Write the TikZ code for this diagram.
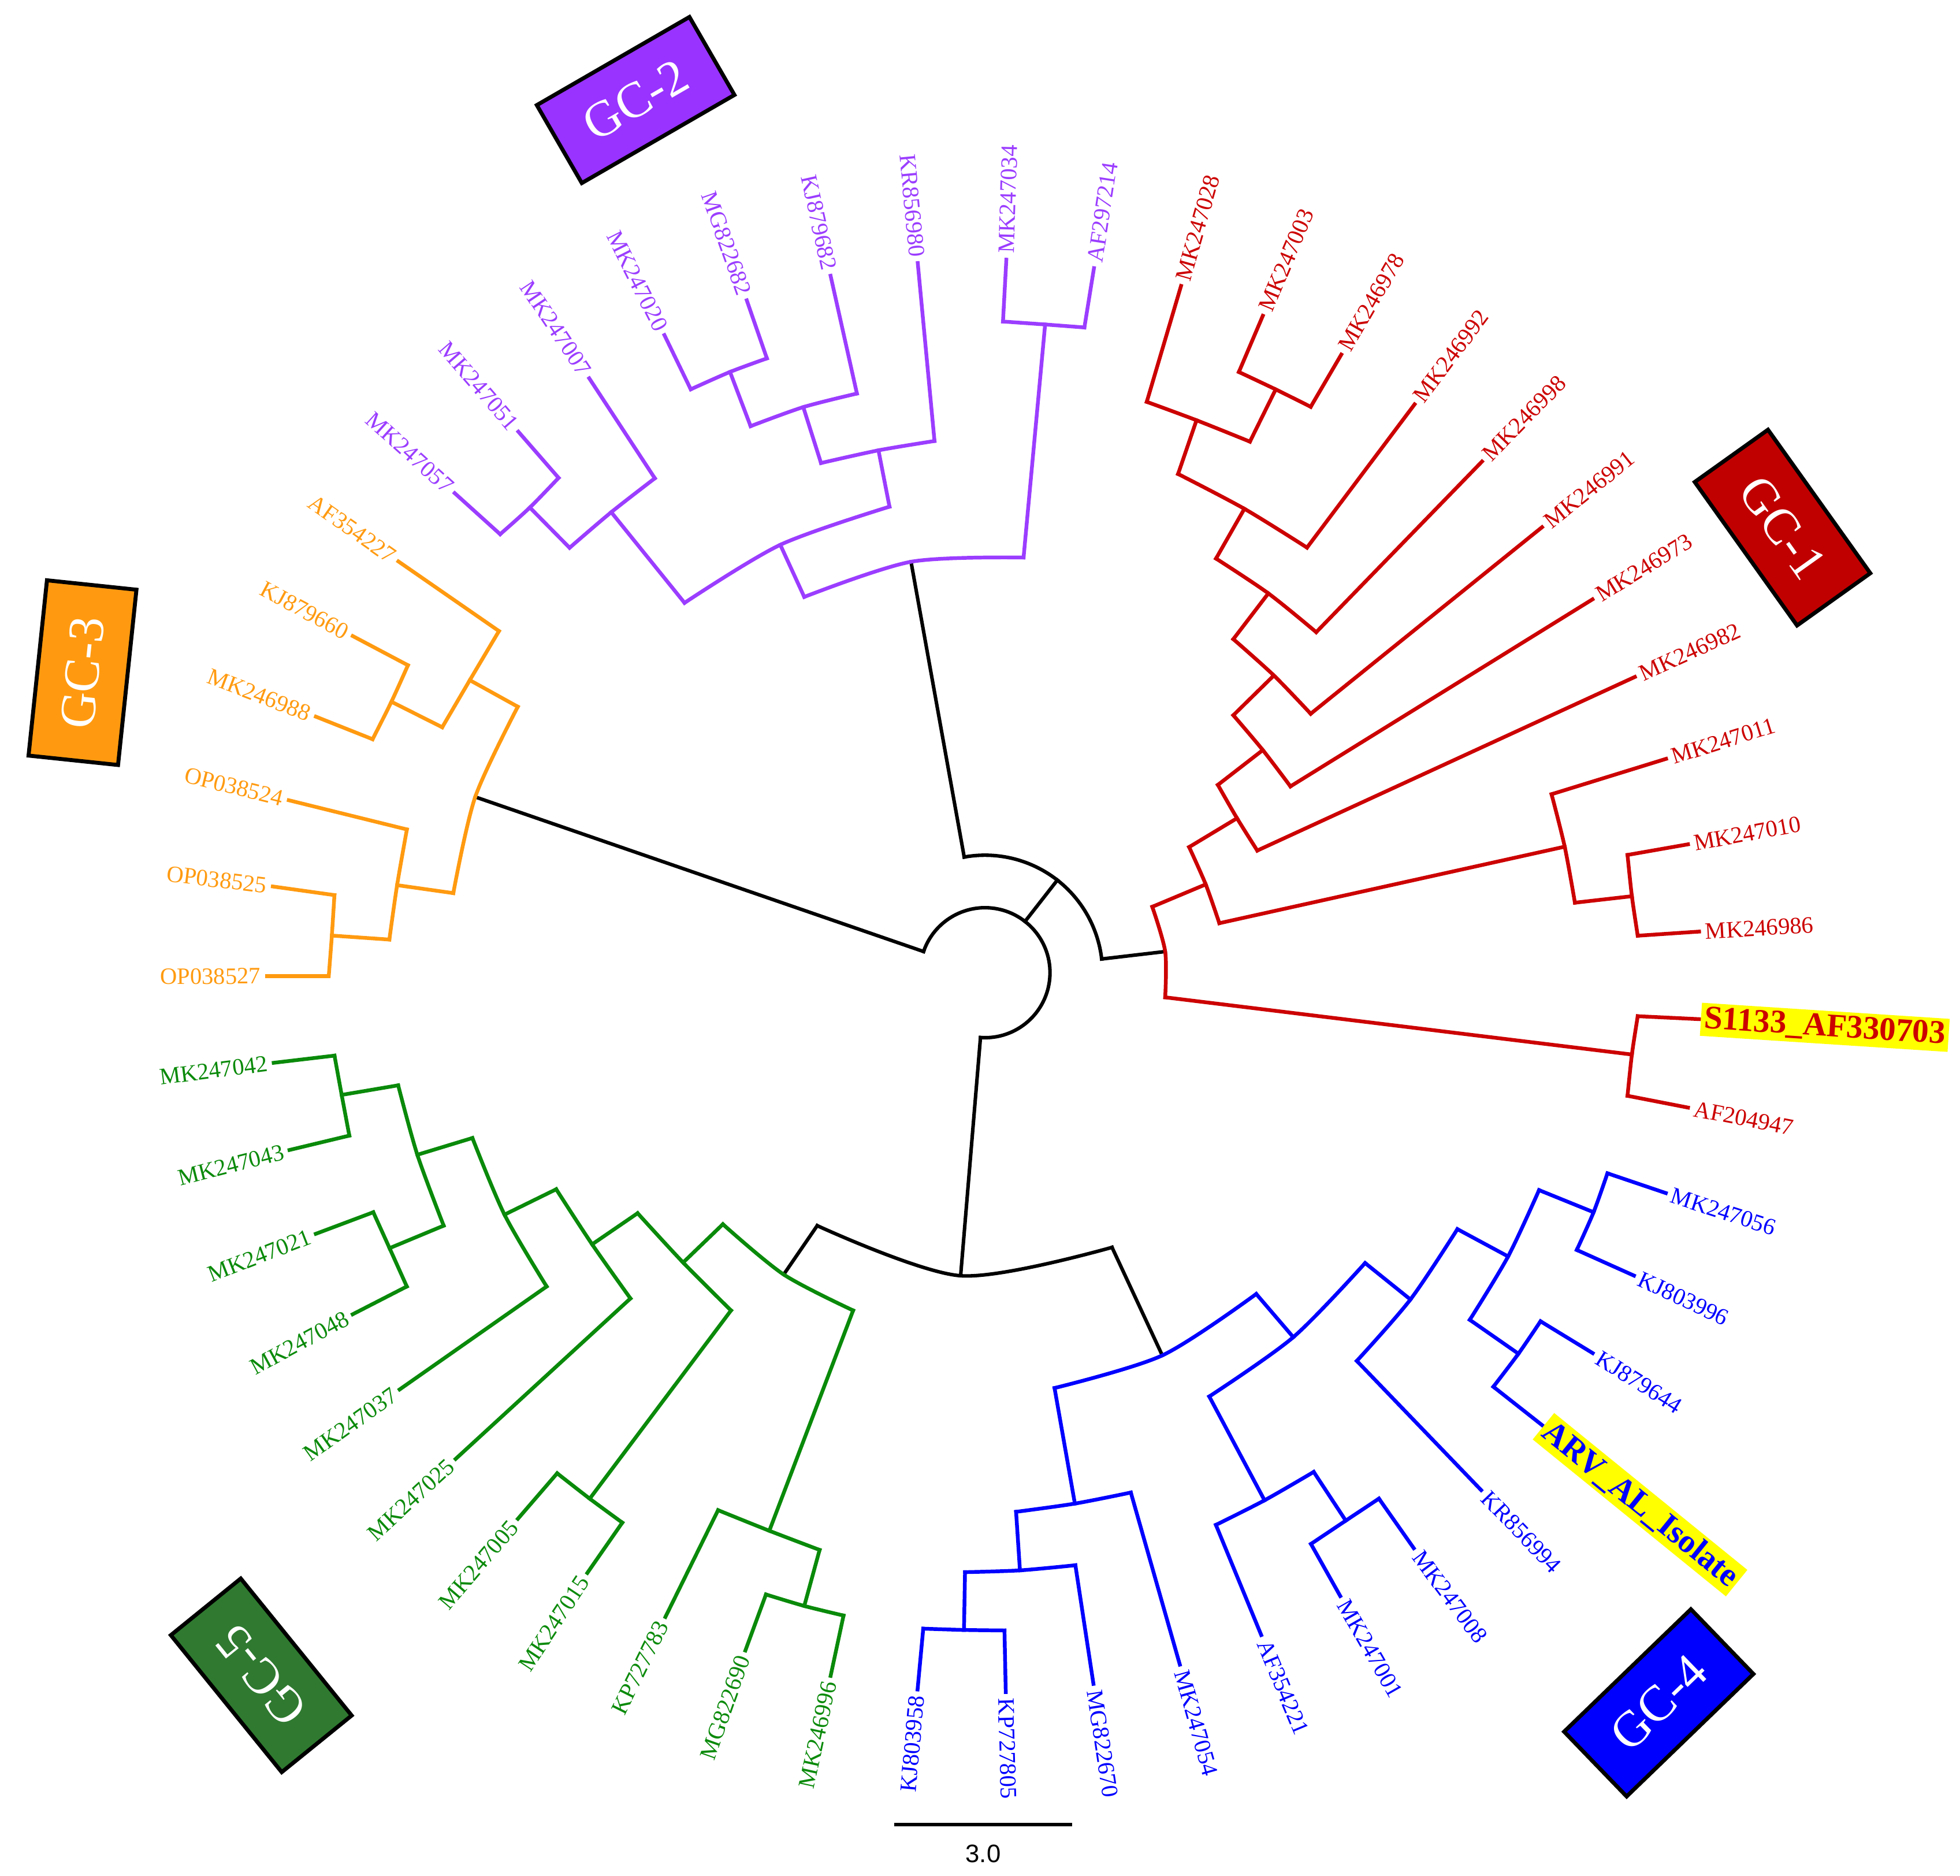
\documentclass[tikz,border=0pt]{standalone}
\usepackage{fontspec}
\setmainfont{Liberation Serif}
\setsansfont{Liberation Sans}
\usetikzlibrary{calc}
\definecolor{cR}{HTML}{CC0000}
\definecolor{cP}{HTML}{9B3DFF}
\definecolor{cO}{HTML}{FF9A10}
\definecolor{cG}{HTML}{0A8A0A}
\definecolor{cB}{HTML}{0000FF}
\definecolor{bxR}{HTML}{C00000}
\definecolor{bxP}{HTML}{9933FF}
\definecolor{bxO}{HTML}{FF9A10}
\definecolor{bxG}{HTML}{2F7A30}
\definecolor{hl}{HTML}{FFFF00}
\tikzset{
  lbl/.style={font=\fontsize{10.7}{12}\selectfont, inner sep=2pt},
  hlbl/.style={font=\fontsize{15}{17}\selectfont\bfseries, fill=hl, inner sep=1.5pt},
  gcbox/.style={draw=black, line width=1.8pt, minimum width=2.82cm, minimum height=1.44cm,
    text=white, font=\fontsize{23}{26}\selectfont, inner sep=0pt},
  zA/.style={shift={(901.2,208.0)},xscale=0.2947,yscale=0.3979},
  zB/.style={shift={(323.5,115.5)},xscale=0.3831,yscale=0.3389},
  zC/.style={shift={(115.5,392.8)},xscale=0.2063,yscale=0.2653},
  zD/.style={shift={(115.5,808.7)},xscale=0.3831,yscale=0.3831},
  zE/.style={shift={(716.3,901.1)},xscale=0.4421,yscale=0.3389},
  zF/.style={shift={(1132.2,901.2)},xscale=0.2358,yscale=0.2358},
  zG/.style={shift={(693.2,1178.4)},xscale=0.2063,yscale=0.2054},
  zH/.style={shift={(1201.5,554.6)},xscale=0.2337,yscale=0.2358},
}
\newcommand\arcc[3]{\draw plot[smooth] coordinates {(#1) (#2) (#3)};}
\newcommand\labr[4][lbl]{\path let \p1=($(#3)-(C)$), \n1={atan2(\y1,\x1)} in
  node[#1,text=#2,anchor=west,rotate=\n1] (L#3) at (#3) {#4};}
\newcommand\labl[4][lbl]{\path let \p1=($(#3)-(C)$), \n1={atan2(\y1,\x1)+180} in
  node[#1,text=#2,anchor=east,rotate=\n1] (L#3) at (#3) {#4};}
\begin{document}
\begin{tikzpicture}[x=0.02cm,y=-0.02cm,line width=1.7pt,line cap=rect]
\useasboundingbox (0,0) rectangle (1568,1500.5);
\coordinate (C) at (788,778);
%% ---------- coordinates
\begin{scope}[zA]
\coordinate (t28) at (148,52); \coordinate (t03) at (370,112); \coordinate (t78) at (583,190);
\coordinate (t92) at (782,290); \coordinate (t98) at (965,405); \coordinate (t91) at (1128,537);
\coordinate (t73) at (1265,682); \coordinate (t82) at (1380,838);
\coordinate (a1) at (55,285); \coordinate (n2) at (190,322); \coordinate (a2) at (335,365);
\coordinate (n1) at (405,260); \coordinate (b1) at (305,225); \coordinate (b2) at (500,295);
\coordinate (c1) at (140,430); \coordinate (n3) at (320,500); \coordinate (c2) at (490,578);
\coordinate (d1) at (243,600); \coordinate (n4) at (385,670); \coordinate (d2) at (515,748);
\coordinate (e1) at (290,762); \coordinate (n5) at (400,835); \coordinate (e2) at (500,912);
\coordinate (f1) at (290,915); \coordinate (n6) at (370,985); \coordinate (f2) at (445,1058);
\coordinate (g1) at (248,1055); \coordinate (n7) at (300,1122); \coordinate (g2) at (355,1187);
\coordinate (h1) at (170,1180); \coordinate (n8) at (215,1255); \coordinate (h2) at (252,1333);
\coordinate (k1) at (70,1300); \coordinate (R1) at (105,1390); \coordinate (k2) at (105,1482);
\end{scope}
\begin{scope}[zH]
\coordinate (n9) at (215,520); \coordinate (i1) at (170,342); \coordinate (i2) at (250,710);
\coordinate (t11) at (562,222); \coordinate (n10) at (445,688); \coordinate (j1) at (430,548);
\coordinate (j2) at (465,822); \coordinate (t10) at (637,512); \coordinate (t86) at (675,808);
\coordinate (S0) at (445,1225); \coordinate (s1) at (465,1095); \coordinate (s2) at (430,1365);
\coordinate (tS) at (675,1105); \coordinate (tAF) at (637,1405);
\end{scope}
\begin{scope}[zB]
\coordinate (P0) at (1058,985); \coordinate (pa) at (835,1068); \coordinate (pb) at (1293,975);
\coordinate (Pm) at (1338,425); \coordinate (pm1) at (1250,418); \coordinate (pm2) at (1420,432);
\coordinate (t34) at (1257,272); \coordinate (t14) at (1440,292);
\coordinate (Q1) at (785,945); \coordinate (q1a) at (585,1082); \coordinate (q1b) at (1013,855);
\coordinate (Q2) at (990,722); \coordinate (q2a) at (870,752); \coordinate (q2b) at (1107,700);
\coordinate (t80) at (1072,280);
\coordinate (Q3) at (833,620); \coordinate (q3a) at (723,665); \coordinate (q3b) at (945,588);
\coordinate (tKJ) at (890,310);
\coordinate (Q4) at (680,537); \coordinate (q4a) at (598,578); \coordinate (q4b) at (757,505);
\coordinate (tMG) at (715,368); \coordinate (t20) at (543,450);
\coordinate (Q5) at (432,868); \coordinate (q5a) at (345,952); \coordinate (q5b) at (523,788);
\coordinate (t07) at (386,552);
\coordinate (Q6) at (262,857); \coordinate (q6a) at (200,920); \coordinate (q6b) at (322,787);
\coordinate (t51) at (238,678); \coordinate (t57) at (105,823);
\end{scope}
\begin{scope}[zC]
\coordinate (O0) at (1283,922); \coordinate (oa) at (1448,650); \coordinate (ob) at (1198,1212);
\coordinate (O1) at (1262,570); \coordinate (o1a) at (1375,422); \coordinate (o1b) at (1155,712);
\coordinate (tA3) at (985,212);
\coordinate (O2) at (958,635); \coordinate (o2a) at (1022,525); \coordinate (o2b) at (885,748);
\coordinate (tK6) at (808,437); \coordinate (t88) at (665,680);
\coordinate (O3) at (980,1188); \coordinate (o3a) at (1018,1020); \coordinate (o3b) at (950,1352);
\coordinate (t24) at (560,932);
\coordinate (O4) at (727,1340); \coordinate (o4a) at (737,1218); \coordinate (o4b) at (715,1462);
\coordinate (t25) at (498,1192); \coordinate (t27) at (475,1462);
\end{scope}
\begin{scope}[zD]
\coordinate (G0) at (1335,550); \coordinate (ga) at (1208,445); \coordinate (gb) at (1480,625);
\coordinate (G1) at (1125,525); \coordinate (G2) at (1305,1085); \coordinate (g2a) at (1198,1042);
\coordinate (g2b) at (1410,1125); \coordinate (tKP) at (1088,1265);
\coordinate (G3) at (1378,1242); \coordinate (g3a) at (1298,1218); \coordinate (g3b) at (1460,1262);
\coordinate (tM6) at (1255,1335); \coordinate (t96) at (1433,1388);
\coordinate (g1a) at (1030,422); \coordinate (g1b) at (1225,625);
\coordinate (G4) at (930,1018); \coordinate (g4a) at (862,965); \coordinate (g4b) at (998,1068);
\coordinate (t05) at (780,1060); \coordinate (t15) at (925,1173);
\coordinate (G5) at (935,487); \coordinate (g5a) at (860,372); \coordinate (g5b) at (1015,600);
\coordinate (tg25) at (650,935);
\coordinate (G6) at (752,425); \coordinate (g6a) at (685,265); \coordinate (g6b) at (840,575);
\coordinate (t37) at (533,790);
\coordinate (G7) at (570,300); \coordinate (g7a) at (530,155); \coordinate (g7b) at (625,448);
\coordinate (G8) at (512,495); \coordinate (g8a) at (478,420); \coordinate (g8b) at (548,575);
\coordinate (t21) at (358,465); \coordinate (t48) at (435,633);
\coordinate (G9) at (412,175); \coordinate (g9a) at (397,93); \coordinate (g9b) at (428,260);
\coordinate (t42) at (270,108); \coordinate (t43) at (303,290);
\coordinate (Bl) at (1405,448);
\end{scope}
\begin{scope}[zE]
\coordinate (B0) at (483,540); \coordinate (ba) at (288,617); \coordinate (bb) at (653,395);
\coordinate (B1) at (720,497); \coordinate (b1a) at (568,637); \coordinate (b1b) at (850,322);
\coordinate (B3) at (932,408); \coordinate (b3a) at (835,553); \coordinate (b3b) at (1017,242);
\coordinate (tKR) at (1060,858);
\coordinate (B4) at (668,882); \coordinate (b4a) at (580,940); \coordinate (b4b) at (757,815);
\coordinate (tA2) at (662,1200);
\coordinate (B5) at (815,930); \coordinate (b5a) at (752,985); \coordinate (b5b) at (875,878);
\coordinate (t01) at (805,1108); \coordinate (t08) at (938,995);
\coordinate (Bn) at (118,352); \coordinate (Br) at (392,285);
\end{scope}
\begin{scope}[zF]
\coordinate (B6) at (315,440); \coordinate (b6a) at (185,655); \coordinate (b6b) at (420,215);
\coordinate (B7) at (605,290); \coordinate (b7a) at (548,418); \coordinate (b7b) at (652,158);
\coordinate (t56) at (850,225); \coordinate (tb96) at (742,505);
\coordinate (B8) at (350,770); \coordinate (b8a) at (265,882); \coordinate (b8b) at (425,660);
\coordinate (t44) at (602,768); \coordinate (tARV) at (430,1012);
\end{scope}
\begin{scope}[zG]
\coordinate (B2) at (808,118); \coordinate (b2a) at (580,150); \coordinate (b2b) at (1025,75);
\coordinate (t54) at (1215,745);
\coordinate (B9) at (595,378); \coordinate (b9a) at (382,385); \coordinate (b9b) at (810,358);
\coordinate (t70) at (880,820);
\coordinate (B10) at (378,610); \coordinate (b10a) at (220,605); \coordinate (b10b) at (535,612);
\coordinate (t58) at (198,842); \coordinate (tb05) at (540,852);
\coordinate (sb1) at (108,1368); \coordinate (sb2) at (797,1368);
\end{scope}
%% ---------- black backbone
\coordinate (rS) at ($(C)+(-94:1.04cm)$);
\coordinate (r3) at ($(C)+(161:1.04cm)$);
\coordinate (rA) at ($(C)+(52:1.04cm)$);
\coordinate (An) at ($(C)+(52:1.88cm)$);
\coordinate (A2) at ($(C)+(100.2:1.88cm)$);
\coordinate (A1) at ($(C)+(6.7:1.88cm)$);
\coordinate (rB) at ($(C)+(-94.6:4.86cm)$);
\begin{scope}[black,line width=1.6pt]
\draw (rS) arc[start angle=-94,end angle=161,radius=1.04cm];
\draw (r3) -- (O0);
\draw (rA) -- (An);
\draw (A2) arc[start angle=100.2,end angle=6.7,radius=1.88cm];
\draw (A2) -- (P0);
\draw (A1) -- (R1);
\draw (rS) -- (rB);
\draw plot[smooth] coordinates {(Bl) (Bn) (Br)};
\draw (Bl) -- (G0);
\draw (Br) -- (B0);
\end{scope}
%% ---------- GC-1 red
\begin{scope}[cR]
\draw (t28)--(a1); \arcc{a1}{n2}{a2} \draw (a2)--(n1); \arcc{b1}{n1}{b2}
\draw (b1)--(t03); \draw (b2)--(t78);
\draw (n2)--(c1); \arcc{c1}{n3}{c2} \draw (c2)--(t92);
\draw (n3)--(d1); \arcc{d1}{n4}{d2} \draw (d2)--(t98);
\draw (n4)--(e1); \arcc{e1}{n5}{e2} \draw (e2)--(t91);
\draw (n5)--(f1); \arcc{f1}{n6}{f2} \draw (f2)--(t73);
\draw (n6)--(g1); \arcc{g1}{n7}{g2} \draw (g2)--(t82);
\draw (n7)--(h1); \arcc{h1}{n8}{h2} \draw (h2)--(n9);
\arcc{i1}{n9}{i2} \draw (i1)--(t11); \draw (i2)--(n10);
\arcc{j1}{n10}{j2} \draw (j1)--(t10); \draw (j2)--(t86);
\draw (n8)--(k1); \arcc{k1}{R1}{k2} \draw (k2)--(S0);
\arcc{s1}{S0}{s2} \draw (s1)--(tS); \draw (s2)--(tAF);
\end{scope}
%% ---------- GC-2 purple
\begin{scope}[cP]
\arcc{pa}{P0}{pb} \draw (pb)--(Pm); \arcc{pm1}{Pm}{pm2} \draw (pm1)--(t34); \draw (pm2)--(t14);
\draw (pa)--(Q1); \arcc{q1a}{Q1}{q1b} \draw (q1b)--(Q2); \arcc{q2a}{Q2}{q2b} \draw (q2b)--(t80);
\draw (q2a)--(Q3); \arcc{q3a}{Q3}{q3b} \draw (q3b)--(tKJ);
\draw (q3a)--(Q4); \arcc{q4a}{Q4}{q4b} \draw (q4b)--(tMG); \draw (q4a)--(t20);
\draw (q1a)--(Q5); \arcc{q5a}{Q5}{q5b} \draw (q5b)--(t07);
\draw (q5a)--(Q6); \arcc{q6a}{Q6}{q6b} \draw (q6b)--(t51); \draw (q6a)--(t57);
\end{scope}
%% ---------- GC-3 orange
\begin{scope}[cO]
\arcc{oa}{O0}{ob} \draw (oa)--(O1); \arcc{o1a}{O1}{o1b} \draw (o1a)--(tA3);
\draw (o1b)--(O2); \arcc{o2a}{O2}{o2b} \draw (o2a)--(tK6); \draw (o2b)--(t88);
\draw (ob)--(O3); \arcc{o3a}{O3}{o3b} \draw (o3a)--(t24);
\draw (o3b)--(O4); \arcc{o4a}{O4}{o4b} \draw (o4a)--(t25); \draw (o4b)--(t27);
\end{scope}
%% ---------- GC-5 green
\begin{scope}[cG]
\arcc{ga}{G0}{gb} \draw (ga)--(G1); \draw (gb)--(G2);
\arcc{g2a}{G2}{g2b} \draw (g2a)--(tKP); \draw (g2b)--(G3);
\arcc{g3a}{G3}{g3b} \draw (g3a)--(tM6); \draw (g3b)--(t96);
\arcc{g1a}{G1}{g1b} \draw (g1b)--(G4); \arcc{g4a}{G4}{g4b} \draw (g4a)--(t05); \draw (g4b)--(t15);
\draw (g1a)--(G5); \arcc{g5a}{G5}{g5b} \draw (g5b)--(tg25);
\draw (g5a)--(G6); \arcc{g6a}{G6}{g6b} \draw (g6b)--(t37);
\draw (g6a)--(G7); \arcc{g7a}{G7}{g7b} \draw (g7b)--(G8);
\arcc{g8a}{G8}{g8b} \draw (g8a)--(t21); \draw (g8b)--(t48);
\draw (g7a)--(G9); \arcc{g9a}{G9}{g9b} \draw (g9a)--(t42); \draw (g9b)--(t43);
\end{scope}
%% ---------- GC-4 blue
\begin{scope}[cB]
\arcc{ba}{B0}{bb} \draw (bb)--(B1); \arcc{b1a}{B1}{b1b} \draw (b1b)--(B3);
\arcc{b3a}{B3}{b3b} \draw (b3a)--(tKR); \draw (b3b)--(B6);
\arcc{b6a}{B6}{b6b} \draw (b6b)--(B7); \arcc{b7a}{B7}{b7b} \draw (b7b)--(t56); \draw (b7a)--(tb96);
\draw (b6a)--(B8); \arcc{b8a}{B8}{b8b} \draw (b8b)--(t44); \draw (b8a)--(tARV);
\draw (b1a)--(B4); \arcc{b4a}{B4}{b4b} \draw (b4a)--(tA2); \draw (b4b)--(B5);
\arcc{b5a}{B5}{b5b} \draw (b5a)--(t01); \draw (b5b)--(t08);
\draw (ba)--(B2); \arcc{b2a}{B2}{b2b} \draw (b2b)--(t54);
\draw (b2a)--(B9); \arcc{b9a}{B9}{b9b} \draw (b9b)--(t70);
\draw (b9a)--(B10); \arcc{b10a}{B10}{b10b} \draw (b10a)--(t58); \draw (b10b)--(tb05);
\end{scope}
%% ---------- labels
\labr{cR}{t28}{MK247028} \labr{cR}{t03}{MK247003} \labr{cR}{t78}{MK246978}
\labr{cR}{t92}{MK246992} \labr{cR}{t98}{MK246998} \labr{cR}{t91}{MK246991}
\labr{cR}{t73}{MK246973} \labr{cR}{t82}{MK246982} \labr{cR}{t11}{MK247011}
\labr{cR}{t10}{MK247010} \labr{cR}{t86}{MK246986}
\labr[hlbl]{cR}{tS}{S1133\_AF330703} \labr{cR}{tAF}{AF204947}
\labr{cP}{t34}{MK247034} \labr{cP}{t14}{AF297214} \labl{cP}{t80}{KR856980}
\labl{cP}{tKJ}{KJ879682} \labl{cP}{tMG}{MG822682} \labl{cP}{t20}{MK247020}
\labl{cP}{t07}{MK247007} \labl{cP}{t51}{MK247051} \labl{cP}{t57}{MK247057}
\labl{cO}{tA3}{AF354227} \labl{cO}{tK6}{KJ879660} \labl{cO}{t88}{MK246988}
\labl{cO}{t24}{OP038524} \labl{cO}{t25}{OP038525} \labl{cO}{t27}{OP038527}
\labl{cG}{t42}{MK247042} \labl{cG}{t43}{MK247043} \labl{cG}{t21}{MK247021}
\labl{cG}{t48}{MK247048} \labl{cG}{t37}{MK247037} \labl{cG}{tg25}{MK247025}
\labl{cG}{t05}{MK247005} \labl{cG}{t15}{MK247015} \labl{cG}{tKP}{KP727783}
\labl{cG}{tM6}{MG822690} \labl{cG}{t96}{MK246996}
\labl{cB}{t58}{KJ803958} \labr{cB}{tb05}{KP727805} \labr{cB}{t70}{MG822670}
\labr{cB}{t54}{MK247054} \labr{cB}{tA2}{AF354221} \labr{cB}{t01}{MK247001}
\labr{cB}{t08}{MK247008} \labr{cB}{tKR}{KR856994} \labr[hlbl]{cB}{tARV}{ARV\_AL\_Isolate}
\labr{cB}{t44}{KJ879644} \labr{cB}{tb96}{KJ803996} \labr{cB}{t56}{MK247056}
%% ---------- scale bar
\draw[black,line width=1.7pt,line cap=butt] (sb1) -- (sb2);
\node[font=\sffamily\fontsize{11.5}{13}\selectfont, anchor=north] (sbl) at ($(sb1)!0.5!(sb2)+(0,9)$) {3.0};
%% ---------- group boxes
\node[gcbox, fill=bxR, rotate=-54.5] (gc1) at (1426,422) {GC-1};
\node[gcbox, fill=bxP, rotate=30] (gc2) at (508.5,80) {GC-2};
\node[gcbox, fill=bxO, rotate=84] (gc3) at (66,538) {GC-3};
\node[gcbox, fill=cB, rotate=44] (gc4) at (1327,1362) {GC-4};
\node[gcbox, fill=bxG, rotate=129] (gc5) at (209,1340) {GC-5};
\end{tikzpicture}
\end{document}
